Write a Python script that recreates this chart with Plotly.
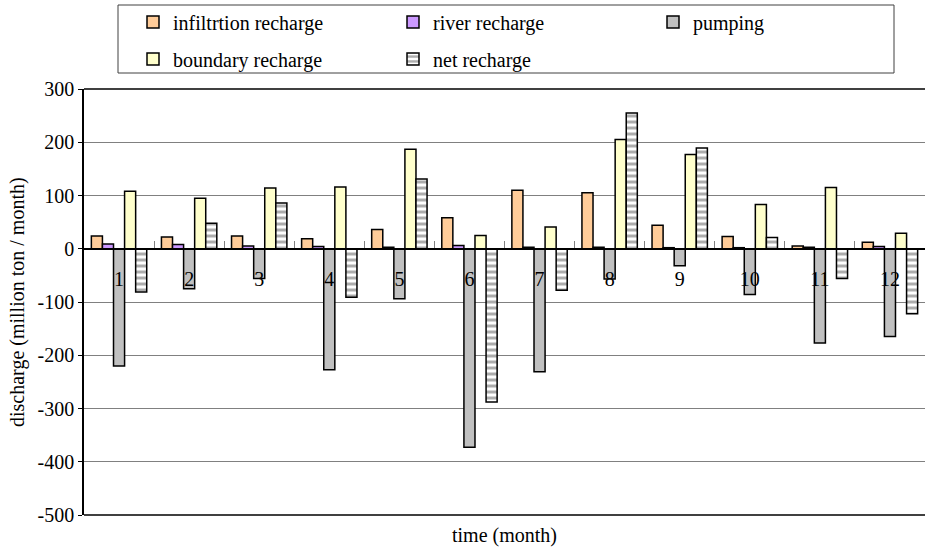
import plotly.graph_objects as go

months = ["1", "2", "3", "4", "5", "6", "7", "8", "9", "10", "11", "12"]
infiltration = [24, 22, 24, 19, 36, 58, 110, 105, 44, 23, 5, 12]
river = [9, 8, 5, 4, 3, 6, 3, 3, 2, 2, 3, 4]
pumping = [-220, -75, -56, -227, -94, -373, -231, -57, -32, -86, -177, -165]
boundary = [108, 95, 114, 116, 187, 25, 41, 205, 177, 83, 115, 29]
net = [-81, 48, 86, -91, 131, -288, -78, 255, 189, 21, -56, -122]
y_ticks = [-500, -400, -300, -200, -100, 0, 100, 200, 300]
y_tick_labels = ["-500", "-400", "-300", "-200", "-100", "0", "100", "200", "300"]

FONT = "Liberation Serif"
W, H = 925, 550
ML, MR, MT, MB = 84, 0, 89, 35
PW, PH = W - ML - MR, H - MT - MB


def px_x(p):
    return (p - ML) / PW


def px_y(p):
    return (H - MB - p) / PH


edge = dict(color="black", width=1.5)
fig = go.Figure()
fig.add_trace(go.Bar(x=months, y=infiltration, name="infiltrtion recharge",
                     marker=dict(color="#FFCC99", line=edge), legend="legend"))
fig.add_trace(go.Bar(x=months, y=river, name="river recharge",
                     marker=dict(color="#CC99FF", line=edge), legend="legend"))
fig.add_trace(go.Bar(x=months, y=pumping, name="pumping",
                     marker=dict(color="#C0C0C0", line=edge), legend="legend"))
fig.add_trace(go.Bar(x=months, y=boundary, name="boundary recharge",
                     marker=dict(color="#FFFFCC", line=edge), legend="legend2"))
fig.add_trace(go.Bar(x=months, y=net, name="net recharge",
                     marker=dict(color="white", line=edge,
                                 pattern=dict(shape="-", fgcolor="#5a5a5a", bgcolor="white",
                                              size=6, solidity=0.5)),
                     legend="legend2"))

zero_pos = (0 - y_ticks[0]) / (y_ticks[-1] - y_ticks[0])
legend_common = dict(orientation="h", xanchor="left", yanchor="middle",
                     entrywidth=215, entrywidthmode="pixels", bgcolor="rgba(0,0,0,0)",
                     borderwidth=0, font=dict(family=FONT, size=20, color="black"),
                     traceorder="normal")

fig.update_layout(
    width=W, height=H,
    margin=dict(l=ML, r=MR, t=MT, b=MB),
    paper_bgcolor="white", plot_bgcolor="white",
    font=dict(family=FONT, size=20, color="black"),
    barmode="group", bargap=0.21, bargroupgap=0,
    xaxis=dict(type="category", anchor="free", position=zero_pos,
               showline=True, linecolor="black", linewidth=1.5,
               ticks="inside", tickson="boundaries", ticklen=7, tickcolor="#808080",
               tickwidth=1, showgrid=False, ticklabelstandoff=12,
               tickfont=dict(family=FONT, size=20, color="black")),
    yaxis=dict(range=[y_ticks[0], y_ticks[-1]], tickvals=y_ticks, ticktext=y_tick_labels,
               showgrid=True, gridcolor="#808080", gridwidth=1,
               zeroline=False, showline=True, linecolor="black", linewidth=1.5,
               ticks="outside", ticklen=4, tickcolor="black",
               tickfont=dict(family=FONT, size=20, color="black")),
    legend=dict(x=px_x(133), y=px_y(22), **legend_common),
    legend2=dict(x=px_x(133), y=px_y(59), **legend_common),
    showlegend=True,
)

# plot-area frame (top and bottom edges) and legend frame
fig.add_shape(type="line", xref="paper", yref="paper", x0=0, x1=1, y0=1, y1=1,
              line=dict(color="black", width=1.5), layer="above")
fig.add_shape(type="line", xref="paper", yref="paper", x0=0, x1=1, y0=0, y1=0,
              line=dict(color="black", width=1.5), layer="above")
fig.add_shape(type="rect", xref="paper", yref="paper",
              x0=px_x(118), x1=px_x(894), y0=px_y(73), y1=px_y(5),
              line=dict(color="#404040", width=1), layer="above")

fig.add_annotation(text="discharge (million ton / month)", xref="paper", yref="paper",
                   x=px_x(17), y=0.5, xanchor="center", yanchor="middle",
                   textangle=-90, showarrow=False,
                   font=dict(family=FONT, size=20, color="black"))
fig.add_annotation(text="time (month)", xref="paper", yref="paper",
                   x=0.5, y=px_y(535), xanchor="center", yanchor="middle",
                   showarrow=False, font=dict(family=FONT, size=20, color="black"))

fig.write_html("out.html")
